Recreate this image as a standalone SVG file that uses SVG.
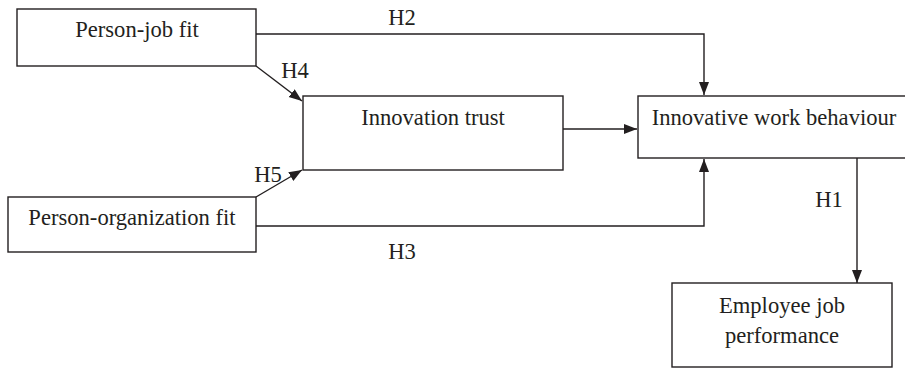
<svg xmlns="http://www.w3.org/2000/svg" width="905" height="368" viewBox="0 0 905 368">
<style>
.box{fill:#fff;stroke:#231f20;stroke-width:1.4}
.lbl{font-family:"Liberation Serif","Times New Roman",serif;font-size:22.6px;fill:#231f20;text-anchor:middle}
.edge{fill:none;stroke:#231f20;stroke-width:1.4}
</style>
<defs>
<marker id="arr" markerUnits="userSpaceOnUse" markerWidth="14" markerHeight="12" refX="13" refY="5" orient="auto">
<path d="M0,0 L13,5 L0,10 z" fill="#231f20"/>
</marker>
</defs>
<rect width="905" height="368" fill="#fff"/>
<g id="connectors">
<path class="edge" d="M256,34 H704 V95" marker-end="url(#arr)"/>
<path class="edge" d="M256,66 L302,101" marker-end="url(#arr)"/>
<path class="edge" d="M256,197 L302,170" marker-end="url(#arr)"/>
<path class="edge" d="M563,129 H637" marker-end="url(#arr)"/>
<path class="edge" d="M256,226 H704 V159" marker-end="url(#arr)"/>
<path class="edge" d="M857,158 V283" marker-end="url(#arr)"/>
<text class="lbl" x="402" y="25">H2</text>
<text class="lbl" x="295" y="78">H4</text>
<text class="lbl" x="268" y="182">H5</text>
<text class="lbl" x="402" y="259">H3</text>
<text class="lbl" x="829" y="207">H1</text>
</g>
<g id="person-job-fit">
<rect class="box" x="17" y="9" width="239" height="57"/>
<text class="lbl" x="137" y="37">Person-job fit</text>
</g>
<g id="innovation-trust">
<rect class="box" x="303" y="96" width="260" height="74"/>
<text class="lbl" x="433" y="125">Innovation trust</text>
</g>
<g id="person-organization-fit">
<rect class="box" x="8" y="197" width="248" height="55"/>
<text class="lbl" x="132" y="225">Person-organization fit</text>
</g>
<g id="innovative-work-behaviour">
<rect class="box" x="638" y="96" width="270" height="62"/>
<text class="lbl" x="774" y="125">Innovative work behaviour</text>
</g>
<g id="employee-job-performance">
<rect class="box" x="672" y="283" width="220" height="84"/>
<text class="lbl" x="782" y="313">Employee job</text>
<text class="lbl" x="782" y="343">performance</text>
</g>
</svg>
